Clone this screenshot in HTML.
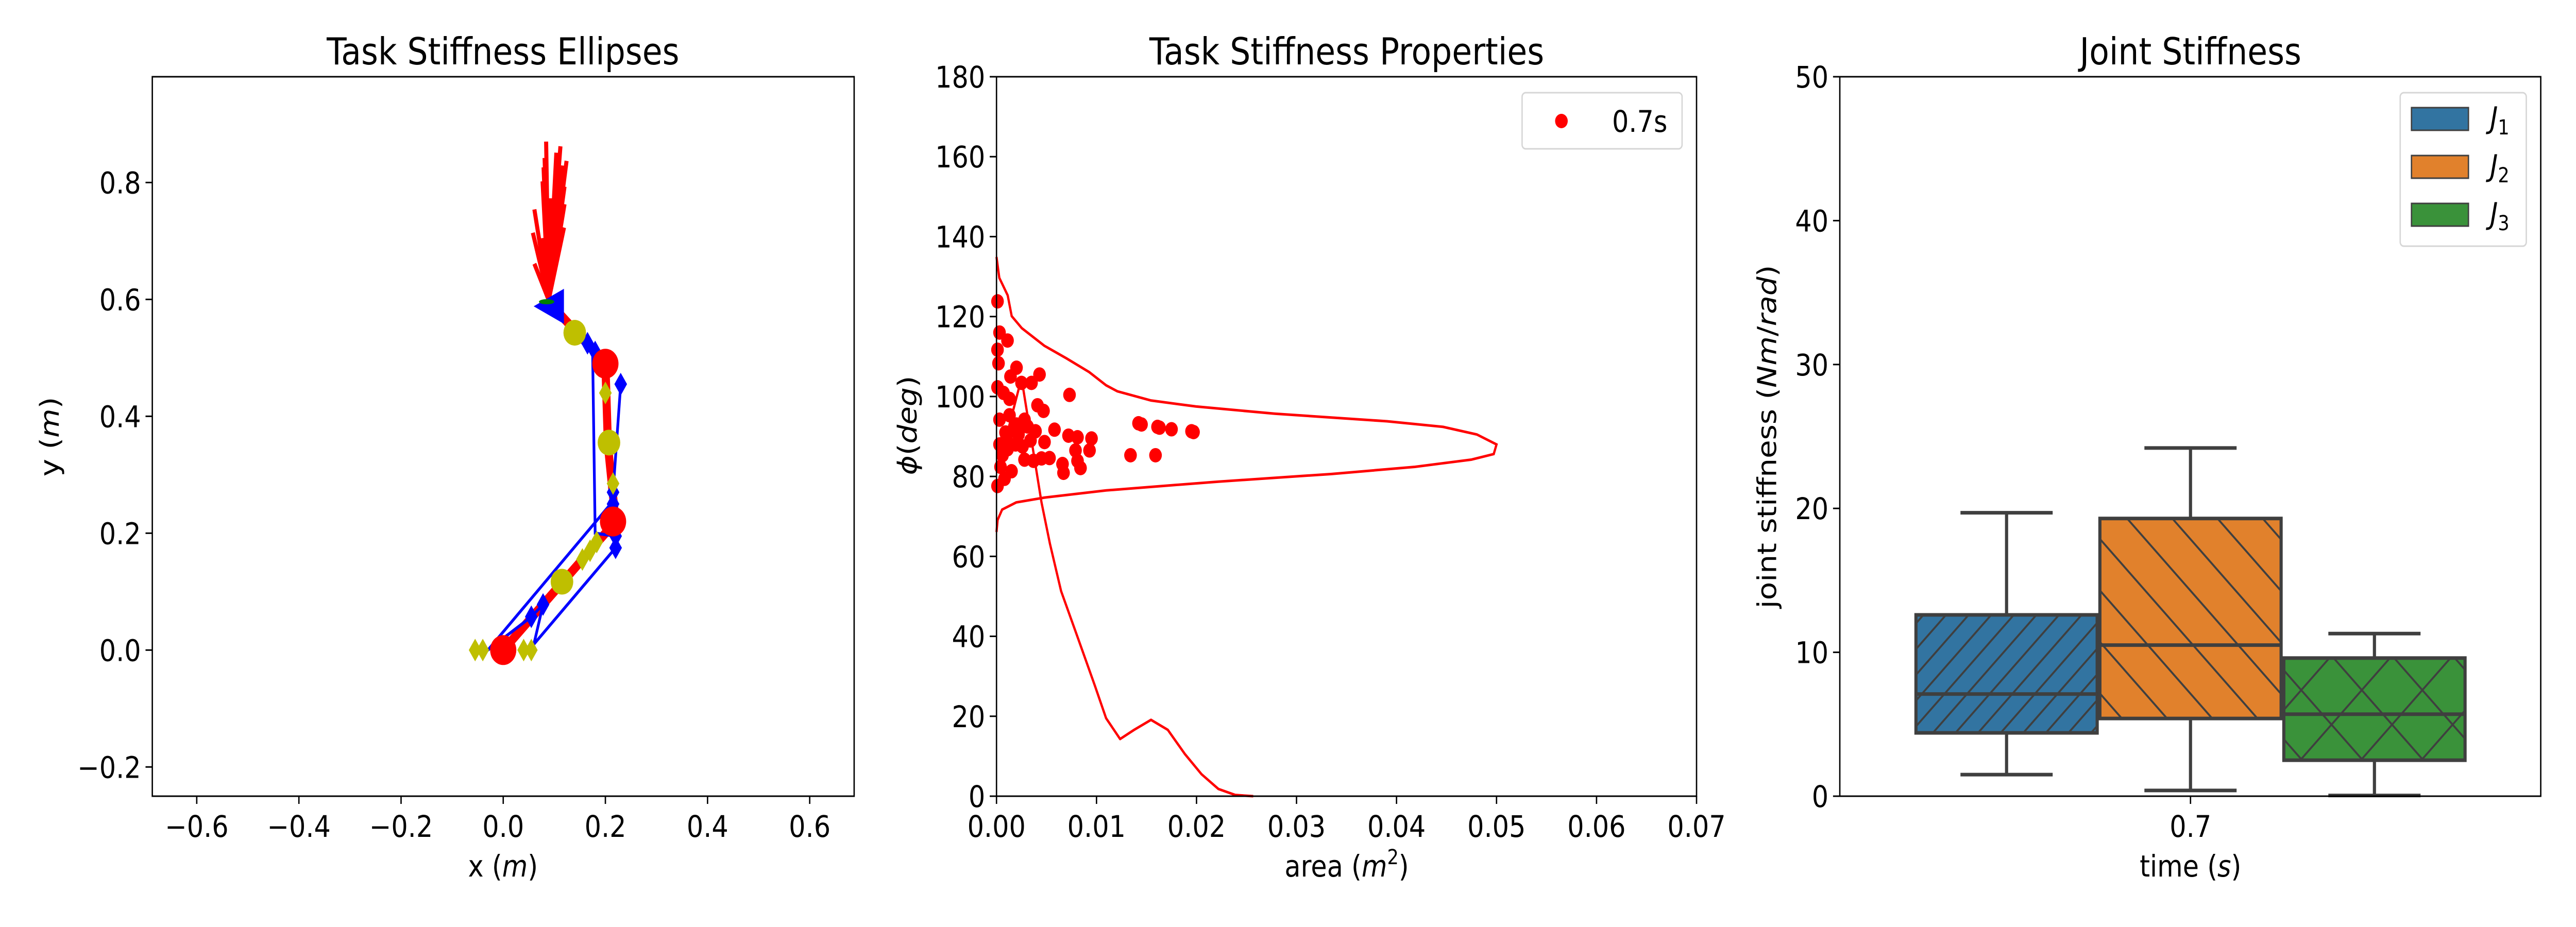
<!DOCTYPE html>
<html><head><meta charset="utf-8">
<style>
html,body{margin:0;padding:0;background:#fff;overflow:hidden;width:100vw;height:100vh;}
svg{display:block;font-family:"DejaVu Sans","Liberation Sans",sans-serif;width:100vw;height:100vh;}
</style></head>
<body>
<svg id="fig" viewBox="0 0 5700 1800" preserveAspectRatio="none" xmlns="http://www.w3.org/2000/svg">
<defs>
<pattern id="hatch1" patternUnits="userSpaceOnUse" width="50" height="50"><path d="M-10,60 L60,-10 M-10,10 L10,-10 M40,60 L60,40" stroke="#3f3f3f" stroke-width="4"/></pattern>
<pattern id="hatch2" patternUnits="userSpaceOnUse" width="100" height="100"><path d="M-10,-10 L110,110 M-10,90 L10,110 M90,-10 L110,10" stroke="#3f3f3f" stroke-width="4"/></pattern>
<pattern id="hatch3" patternUnits="userSpaceOnUse" width="134" height="134"><path d="M-10,-10 L144,144 M-10,144 L144,-10" stroke="#3f3f3f" stroke-width="4"/></pattern>
</defs>
<g id="p1"></g>
<g id="p2"></g>
<g id="p3"></g>
</svg>
<script>
// ---------- Panel 1 data ----------
const linkX=[0,0.22,0.205,0.2,0.095];
const linkY=[0,0.22,0.35,0.49,0.59];
const redJointX=[0,0.215,0.2];
const redJointY=[0,0.22,0.49];
const yelJointX=[0.115,0.207,0.14];
const yelJointY=[0.117,0.355,0.543];
const bluePathX=[0.22,-0.03,0.055,0.078,0.06,0.22,0.22,0.18,0.175,0.18,0.165];
const bluePathY=[0.26,0.0,0.057,0.078,0.01,0.175,0.195,0.2,0.51,0.51,0.525];
const blueRightX=[0.23,0.215,0.215];
const blueRightY=[0.455,0.27,0.25];
const blueDiaX=[0.055,0.078,0.22,0.22,0.215,0.215,0.23,0.165,0.18];
const blueDiaY=[0.057,0.078,0.175,0.195,0.25,0.27,0.455,0.525,0.51];
const yelDiaX=[-0.055,-0.04,0.04,0.055,0.155,0.17,0.183,0.2,0.215];
const yelDiaY=[0,0,0,0,0.155,0.17,0.185,0.44,0.285];
const arrowBase=[0.089,0.599];
const arrowTipX=[0.084,0.112,0.124,0.117,0.104,0.081,0.079,0.077,0.092,0.120,0.061,0.058,0.061,0.077,0.120,0.119];
const arrowTipY=[0.870,0.862,0.837,0.829,0.851,0.842,0.826,0.802,0.773,0.793,0.754,0.714,0.661,0.705,0.763,0.723];
const p1XTicks=[-0.6,-0.4,-0.2,0.0,0.2,0.4,0.6];
const p1XTickLabels=["\u22120.6","\u22120.4","\u22120.2","0.0","0.2","0.4","0.6"];
const p1YTicks=[-0.2,0.0,0.2,0.4,0.6,0.8];
const p1YTickLabels=["\u22120.2","0.0","0.2","0.4","0.6","0.8"];

// ---------- Panel 2 data ----------
const scatterX=[0.0001,0.0003,0.0011,0.0001,0.0002,0.002,0.0014,0.0043,0.0025,0.0035,0.0001,0.0007,0.0013,0.0073,0.0041,0.0047,0.0013,0.0003,0.0028,0.0142,0.0161,0.0175,0.0195,0.0058,0.0039,0.0022,0.001,0.0072,0.0081,0.0095,0.0034,0.0019,0.0003,0.0011,0.0048,0.0079,0.0093,0.0134,0.0159,0.0028,0.0053,0.0066,0.0081,0.0084,0.0004,0.0015,0.0067,0.0008,0.0001,0.0037,0.002,0.0006,0.0145,0.0163,0.0197,0.0031,0.0017,0.0026,0.0009,0.0045];
const scatterY=[123.8,116,114,111.7,108.3,107.2,105,105.5,103.4,103.4,102.3,100.9,99.4,100.4,97.8,96.4,95.3,94.2,94.2,93.3,92.4,91.8,91.3,91.7,91.3,90.5,89.8,90.2,89.8,89.5,89.0,88.0,88,86.8,88.6,86.5,86.5,85.3,85.3,84.2,84.6,83.1,83.9,82.1,82.4,81.3,80.9,79.4,77.6,83.9,93,85.3,93.0,92.2,91.1,92.5,91.5,87.5,91,84.5];
const kdeAngleX=[0,0.00028,0.00112,0.00152,0.00253,0.00478,0.00702,0.00927,0.01096,0.01208,0.01545,0.01994,0.02781,0.03904,0.04466,0.04803,0.05,0.04972,0.04747,0.04185,0.03343,0.02219,0.01096,0.00478,0.00197,0.00056,0.00011,0];
const kdeAngleY=[134.9,129.7,125.3,120.1,117.1,112.7,109.5,106.1,102.8,101.3,99.0,97.5,95.7,93.8,92.4,90.5,88.0,85.6,84.2,82.4,80.6,78.7,76.5,74.7,73.5,71.7,69.1,66.1];
const kdeAreaX=[0.0002,0.0012,0.0025,0.0045,0.00534,0.00646,0.00815,0.00983,0.01096,0.01236,0.01376,0.01545,0.01713,0.01882,0.0205,0.02219,0.02387,0.02567];
const kdeAreaY=[76,92,104.6,73.5,63.2,51.3,39.5,27.7,19.5,14.3,16.6,19.1,16.6,10.6,5.5,1.8,0.3,0];
const p2XTicks=[0,0.01,0.02,0.03,0.04,0.05,0.06,0.07];
const p2XTickLabels=["0.00","0.01","0.02","0.03","0.04","0.05","0.06","0.07"];
const p2YTicks=[0,20,40,60,80,100,120,140,160,180];
const p2YTickLabels=["0","20","40","60","80","100","120","140","160","180"];

// ---------- Panel 3 data ----------
const jointNames=["J1","J2","J3"];
const jointSubs=["1","2","3"];
const whiskerLow=[1.5,0.4,0.05];
const q1=[4.4,5.4,2.5];
const median=[7.1,10.5,5.7];
const q3=[12.6,19.3,9.6];
const whiskerHigh=[19.7,24.2,11.3];
const boxColors=["#3274a1","#e1812c","#3a923a"];
const p3YTicks=[0,10,20,30,40,50];
const p3YTickLabels=["0","10","20","30","40","50"];
const p3Categories=["0.7"];

const NS="http://www.w3.org/2000/svg";
function mk(parent,tag,attrs,text){const e=document.createElementNS(NS,tag);for(const k in attrs)e.setAttribute(k,attrs[k]);if(text!==undefined)e.textContent=text;parent.appendChild(e);return e;}

// ===== Panel 1 =====
(function(){
const g=document.getElementById('p1');
const L=337,R=1890,T=149,B=1546;
const x0=-0.687,x1=0.687,y0=-0.250,y1=0.981;
const sx=v=>L+(v-x0)/(x1-x0)*(R-L);
const sy=v=>B-(v-y0)/(y1-y0)*(B-T);
for(let i=0;i<arrowTipX.length;i++){
 const a=mk(g,'line',{x1:sx(arrowBase[0]),y1:sy(arrowBase[1]),x2:sx(arrowTipX[i]),y2:sy(arrowTipY[i]),stroke:'#ff0000','stroke-width':9});
 
 
}
let d='';linkX.forEach((v,i)=>{d+=(i?'L':'M')+sx(v)+','+sy(linkY[i]);});
const lk=mk(g,'path',{d:d,stroke:'#ff0000','stroke-width':18,fill:'none','stroke-linejoin':'round'});


d='';bluePathX.forEach((v,i)=>{d+=(i?'L':'M')+sx(v)+','+sy(bluePathY[i]);});
const bp=mk(g,'path',{d:d,stroke:'#0000ff','stroke-width':6,fill:'none'});


d='';blueRightX.forEach((v,i)=>{d+=(i?'L':'M')+sx(v)+','+sy(blueRightY[i]);});
const bp2=mk(g,'path',{d:d,stroke:'#0000ff','stroke-width':6,fill:'none'});


function dia(x,y,c,name){const px=sx(x),py=sy(y);const e=mk(g,'path',{d:`M${px},${py-22} L${px+14},${py} L${px},${py+22} L${px-14},${py} Z`,fill:c});
 
 }
blueDiaX.forEach((v,i)=>dia(v,blueDiaY[i],'#0000ff','muscle-attachment'));
yelDiaX.forEach((v,i)=>dia(v,yelDiaY[i],'#bfbf00','via-point'));
redJointX.forEach((v,i)=>{const c=mk(g,'circle',{cx:sx(v),cy:sy(redJointY[i]),r:29,fill:'#ff0000'});
 
 });
yelJointX.forEach((v,i)=>{const c=mk(g,'circle',{cx:sx(v),cy:sy(yelJointY[i]),r:25,fill:'#bfbf00'});
 
 });
const tx=sx(0.095),ty=sy(0.59);
const tri=mk(g,'path',{d:`M${tx-40},${ty+2} L${tx+27},${ty-32} L${tx+27},${ty+36} Z`,fill:'#0000ff'});


const el=mk(g,'ellipse',{cx:sx(0.085),cy:sy(0.596),rx:17,ry:5,fill:'#008000'});


const fr=mk(g,'rect',{x:L,y:T,width:R-L,height:B-T,fill:'none',stroke:'#000','stroke-width':3});


p1XTicks.forEach((v,i)=>{mk(g,'line',{x1:sx(v),y1:B,x2:sx(v),y2:B+15,stroke:'#000','stroke-width':3});
 const t=mk(g,'text',{x:sx(v),y:B+79,'font-size':58,'text-anchor':'middle'},p1XTickLabels[i]);
 
 });
p1YTicks.forEach((v,i)=>{mk(g,'line',{x1:L-15,y1:sy(v),x2:L,y2:sy(v),stroke:'#000','stroke-width':3});
 const t=mk(g,'text',{x:L-25,y:sy(v)+21,'font-size':58,'text-anchor':'end'},p1YTickLabels[i]);
 
 });
})();

// ===== Panel 2 =====
(function(){
const g=document.getElementById('p2');
const L=2205,R=3754,T=149,B=1546;
const sx=v=>L+v/0.07*(R-L);
const sy=v=>B-v/180*(B-T);
scatterX.forEach((v,i)=>{const c=mk(g,'circle',{cx:sx(v),cy:sy(scatterY[i]),r:14,fill:'#ff0000'});
 
 });
let d='';kdeAngleX.forEach((v,i)=>{d+=(i?'L':'M')+sx(v)+','+sy(kdeAngleY[i]);});
const k1=mk(g,'path',{d:d,stroke:'#ff0000','stroke-width':5,fill:'none'});


d='';kdeAreaX.forEach((v,i)=>{d+=(i?'L':'M')+sx(v)+','+sy(kdeAreaY[i]);});
const k2=mk(g,'path',{d:d,stroke:'#ff0000','stroke-width':5,fill:'none','stroke-linejoin':'round'});


const fr=mk(g,'rect',{x:L,y:T,width:R-L,height:B-T,fill:'none',stroke:'#000','stroke-width':3});


p2XTicks.forEach((v,i)=>{mk(g,'line',{x1:sx(v),y1:B,x2:sx(v),y2:B+15,stroke:'#000','stroke-width':3});
 const t=mk(g,'text',{x:sx(v),y:B+79,'font-size':58,'text-anchor':'middle'},p2XTickLabels[i]);
 
 });
p2YTicks.forEach((v,i)=>{mk(g,'line',{x1:L-15,y1:sy(v),x2:L,y2:sy(v),stroke:'#000','stroke-width':3});
 const t=mk(g,'text',{x:L-25,y:sy(v)+21,'font-size':58,'text-anchor':'end'},p2YTickLabels[i]);
 
 });
const lg=mk(g,'g',{});


mk(lg,'rect',{x:3368,y:180,width:354,height:109,rx:8,fill:'#fff',stroke:'#d6d6d6','stroke-width':3});
mk(lg,'circle',{cx:3455,cy:235,r:14,fill:'#ff0000'});
mk(lg,'text',{x:3567,y:256,'font-size':58},'0.7s');
})();

// ===== Panel 3 =====
(function(){
const g=document.getElementById('p3');
const L=4071,R=5622,T=149,B=1546;
const sy=v=>B-v/50*(B-T);
const center=4847, hueW=407;
const pats=['url(#hatch1)','url(#hatch2)','url(#hatch3)'];
jointNames.forEach((n,i)=>{
 const cx=center+(i-1)*hueW;
 const x0=cx-hueW/2+3, x1=cx+hueW/2-3;
 const grp=mk(g,'g',{});
 
 
 mk(grp,'line',{x1:cx,y1:sy(whiskerLow[i]),x2:cx,y2:sy(q1[i]),stroke:'#3f3f3f','stroke-width':7});
 mk(grp,'line',{x1:cx,y1:sy(q3[i]),x2:cx,y2:sy(whiskerHigh[i]),stroke:'#3f3f3f','stroke-width':7});
 mk(grp,'line',{x1:cx-102,y1:sy(whiskerLow[i]),x2:cx+102,y2:sy(whiskerLow[i]),stroke:'#3f3f3f','stroke-width':7});
 mk(grp,'line',{x1:cx-102,y1:sy(whiskerHigh[i]),x2:cx+102,y2:sy(whiskerHigh[i]),stroke:'#3f3f3f','stroke-width':7});
 mk(grp,'rect',{x:x0,y:sy(q3[i]),width:x1-x0,height:sy(q1[i])-sy(q3[i]),fill:boxColors[i]});
 mk(grp,'rect',{x:x0,y:sy(q3[i]),width:x1-x0,height:sy(q1[i])-sy(q3[i]),fill:pats[i],stroke:'#3f3f3f','stroke-width':7});
 mk(grp,'line',{x1:x0,y1:sy(median[i]),x2:x1,y2:sy(median[i]),stroke:'#3f3f3f','stroke-width':7});
});
const fr=mk(g,'rect',{x:L,y:T,width:R-L,height:B-T,fill:'none',stroke:'#000','stroke-width':3});


p3Categories.forEach(c=>{mk(g,'line',{x1:center,y1:B,x2:center,y2:B+15,stroke:'#000','stroke-width':3});
 const t=mk(g,'text',{x:center,y:B+79,'font-size':58,'text-anchor':'middle'},c);
 
 });
p3YTicks.forEach((v,i)=>{mk(g,'line',{x1:L-15,y1:sy(v),x2:L,y2:sy(v),stroke:'#000','stroke-width':3});
 const t=mk(g,'text',{x:L-25,y:sy(v)+21,'font-size':58,'text-anchor':'end'},p3YTickLabels[i]);
 
 });
const lg=mk(g,'g',{});


mk(lg,'rect',{x:5311,y:180,width:279,height:298,rx:8,fill:'#fff',stroke:'#d6d6d6','stroke-width':3});
jointNames.forEach((n,i)=>{
 const y=209+i*93;
 mk(lg,'rect',{x:5336,y:y,width:126,height:44,fill:boxColors[i],stroke:'#3f3f3f','stroke-width':3});
 const t=mk(lg,'text',{x:5510,y:y+40,'font-size':58,'font-style':'italic'},'J');
 mk(t,'tspan',{'font-size':40,dy:12,'font-style':'normal'},jointSubs[i]);
});
})();

const fig=document.getElementById('fig');
function txt(attrs,s,name){const e=document.createElementNS(NS,'text');for(const k in attrs)e.setAttribute(k,attrs[k]);e.innerHTML=s;
 
 
 fig.appendChild(e);}
txt({x:1113,y:125,'font-size':72,'text-anchor':'middle'},'Task Stiffness Ellipses','title-ellipses');
txt({x:2980,y:125,'font-size':72,'text-anchor':'middle'},'Task Stiffness Properties','title-properties');
txt({x:4847,y:125,'font-size':72,'text-anchor':'middle'},'Joint Stiffness','title-joint-stiffness');
txt({x:1113,y:1702,'font-size':58,'text-anchor':'middle'},'x (<tspan font-style="italic">m</tspan>)','x-axis-title');
txt({x:2980,y:1702,'font-size':58,'text-anchor':'middle'},'area (<tspan font-style="italic">m</tspan><tspan font-size="40" dy="-24">2</tspan><tspan dy="24">)</tspan>','x-axis-title');
txt({x:4847,y:1702,'font-size':58,'text-anchor':'middle'},'time (<tspan font-style="italic">s</tspan>)','x-axis-title');
txt({x:130,y:848,'font-size':58,'text-anchor':'middle',transform:'rotate(-90 130 848)'},'y (<tspan font-style="italic">m</tspan>)','y-axis-title');
txt({x:2028,y:826,'font-size':58,'text-anchor':'middle',transform:'rotate(-90 2028 826)'},'<tspan font-style="italic">ϕ</tspan>(<tspan font-style="italic">deg</tspan>)','y-axis-title');
txt({x:3930,y:848,'font-size':58,'text-anchor':'middle',transform:'rotate(-90 3930 848)'},'joint stiffness (<tspan font-style="italic">Nm</tspan>/<tspan font-style="italic">rad</tspan>)','y-axis-title');
</script>
</body></html>
